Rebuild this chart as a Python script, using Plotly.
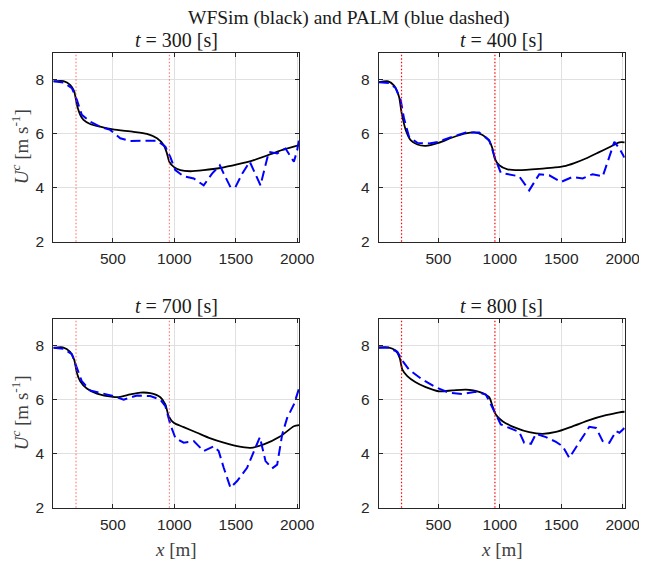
import plotly.graph_objects as go

# ---------------- data ----------------
times = [300, 400, 700, 800]
turbine_x = [200, 960]
x_ticks = [500, 1000, 1500, 2000]
y_ticks = [2, 4, 6, 8]
x_range = [15, 2017]
y_range = [2, 9]

# WFSim (black solid)
wfsim_x_300 = [16, 98, 152, 185, 207, 234, 261, 315, 397, 500, 668, 777, 859, 913, 940, 959, 995, 1049, 1130, 1239, 1375, 1511, 1647, 1783, 1891, 2016]
wfsim_u_300 = [7.94, 7.95, 7.81, 7.57, 7.07, 6.70, 6.51, 6.36, 6.26, 6.16, 6.07, 5.99, 5.83, 5.58, 5.27, 4.96, 4.77, 4.65, 4.61, 4.65, 4.73, 4.86, 5.02, 5.24, 5.42, 5.58]

wfsim_x_400 = [16, 92, 139, 179, 201, 234, 274, 329, 397, 500, 614, 723, 791, 859, 913, 940, 959, 995, 1063, 1158, 1348, 1450, 1538, 1600, 1700, 1800, 1891, 1973, 2016]
wfsim_u_400 = [7.91, 7.94, 7.78, 7.38, 6.76, 6.14, 5.76, 5.60, 5.55, 5.66, 5.86, 6.01, 6.05, 5.95, 5.74, 5.45, 5.08, 4.83, 4.68, 4.65, 4.71, 4.75, 4.81, 4.90, 5.08, 5.30, 5.50, 5.68, 5.68]

wfsim_x_700 = [16, 92, 152, 185, 207, 234, 288, 370, 500, 560, 641, 723, 804, 886, 927, 954, 995, 1076, 1185, 1294, 1402, 1511, 1620, 1728, 1864, 1973, 2016]
wfsim_u_700 = [7.93, 7.95, 7.78, 7.49, 7.00, 6.69, 6.42, 6.23, 6.11, 6.11, 6.20, 6.27, 6.25, 6.10, 5.83, 5.40, 5.15, 4.99, 4.78, 4.57, 4.41, 4.28, 4.22, 4.35, 4.65, 5.02, 5.06]

wfsim_x_800 = [16, 92, 152, 185, 207, 247, 315, 397, 500, 614, 723, 832, 913, 940, 967, 1022, 1130, 1239, 1348, 1457, 1592, 1728, 1864, 1973, 2016]
wfsim_u_800 = [7.95, 7.95, 7.83, 7.56, 7.12, 6.88, 6.65, 6.47, 6.32, 6.35, 6.38, 6.30, 6.10, 5.77, 5.46, 5.21, 4.96, 4.80, 4.74, 4.81, 5.02, 5.25, 5.43, 5.54, 5.56]

# PALM (blue dashed)
palm_x_300 = [16, 98, 166, 207, 247, 315, 397, 478, 560, 641, 750, 859, 927, 967, 1008, 1076, 1158, 1239, 1307, 1370, 1402, 1457, 1497, 1552, 1614, 1647, 1701, 1769, 1837, 1905, 1973, 2000, 2016]
palm_u_300 = [7.94, 7.90, 7.69, 7.25, 6.70, 6.45, 6.26, 6.14, 5.83, 5.73, 5.74, 5.74, 5.52, 5.14, 4.65, 4.42, 4.34, 4.09, 4.52, 4.83, 4.52, 4.02, 4.02, 4.52, 4.96, 4.65, 4.09, 5.33, 5.27, 5.45, 4.96, 5.39, 5.83]

palm_x_400 = [16, 98, 152, 193, 220, 261, 329, 424, 500, 614, 723, 832, 913, 967, 1008, 1076, 1158, 1239, 1321, 1402, 1497, 1592, 1674, 1755, 1837, 1891, 1932, 1973, 2014]
palm_u_400 = [7.91, 7.88, 7.69, 7.25, 6.57, 5.89, 5.66, 5.64, 5.70, 5.89, 6.04, 6.04, 5.76, 5.02, 4.55, 4.48, 4.42, 3.90, 4.50, 4.46, 4.21, 4.40, 4.34, 4.50, 4.42, 5.14, 5.70, 5.45, 5.12]

palm_x_700 = [16, 98, 166, 207, 247, 315, 397, 505, 587, 696, 804, 886, 927, 967, 1008, 1076, 1158, 1239, 1321, 1361, 1402, 1457, 1511, 1592, 1696, 1742, 1796, 1837, 1878, 1918, 1973, 2016]
palm_u_700 = [7.93, 7.90, 7.70, 7.19, 6.69, 6.35, 6.26, 6.14, 6.01, 6.16, 6.14, 6.01, 5.77, 5.09, 4.59, 4.41, 4.47, 4.10, 4.28, 4.10, 3.48, 2.74, 2.99, 3.48, 4.62, 3.73, 3.46, 3.60, 4.72, 5.33, 5.83, 6.44]

palm_x_800 = [16, 98, 166, 220, 261, 370, 478, 587, 696, 804, 886, 954, 1008, 1076, 1158, 1198, 1253, 1294, 1375, 1457, 1511, 1565, 1647, 1728, 1783, 1837, 1891, 1946, 1973, 2016]
palm_u_800 = [7.93, 7.93, 7.78, 7.37, 7.12, 6.75, 6.47, 6.26, 6.22, 6.30, 6.20, 5.58, 5.09, 4.96, 4.81, 4.41, 4.37, 4.74, 4.62, 4.44, 4.28, 3.85, 4.41, 5.00, 4.96, 4.47, 4.41, 4.84, 4.78, 4.96]

wfsim_x = [wfsim_x_300, wfsim_x_400, wfsim_x_700, wfsim_x_800]
wfsim_u = [wfsim_u_300, wfsim_u_400, wfsim_u_700, wfsim_u_800]
palm_x = [palm_x_300, palm_x_400, palm_x_700, palm_x_800]
palm_u = [palm_u_300, palm_u_400, palm_u_700, palm_u_800]

# ---------------- layout ----------------
# The page body has an 8 px margin; the figure is sized so it fills the window.
OFF = 8
W, H = 647 - OFF, 562 - OFF


def fx(px):
    return (px - OFF) / W


def fy(py):
    return 1 - (py - OFF) / H


col_dom = [[fx(53.3), fx(299.3)], [fx(378.8), fx(624.8)]]
row_dom = [[fy(241.7), fy(52.7)], [fy(507.7), fy(319.0)]]

AX = "#262626"
GRID = "#e0e0e0"
SERIF = "Liberation Serif, Times New Roman, serif"
SANS = "Liberation Sans, Arial, Helvetica, sans-serif"

fig = go.Figure()
layout = dict(
    width=W, height=H,
    margin=dict(l=0, r=0, t=0, b=0, autoexpand=False),
    paper_bgcolor="white", plot_bgcolor="white",
    showlegend=False,
    annotations=[], shapes=[],
)

vline_colors = ["rgba(255,70,70,0.7)", "red", "rgba(255,70,70,0.7)", "red"]

for i in range(4):
    r, c = divmod(i, 2)
    n = i + 1
    xa = "x" if n == 1 else f"x{n}"
    ya = "y" if n == 1 else f"y{n}"
    common = dict(
        showline=True, linecolor=AX, linewidth=1, mirror="allticks",
        ticks="inside", ticklen=4, tickcolor=AX, tickwidth=1,
        showgrid=True, gridcolor=GRID, gridwidth=1, zeroline=False,
        tickfont=dict(family=SANS, size=15.5, color=AX),
        automargin=False, ticklabeloverflow="allow",
    )
    layout[f"xaxis{n if n > 1 else ''}"] = dict(
        common, domain=col_dom[c], anchor=ya, range=x_range,
        tickmode="array", tickvals=x_ticks, ticklabelstandoff=3,
    )
    layout[f"yaxis{n if n > 1 else ''}"] = dict(
        common, domain=row_dom[r], anchor=xa, range=y_range,
        tickmode="array", tickvals=y_ticks, ticklabelstandoff=5,
    )

    # turbine positions
    for tx in turbine_x:
        layout["shapes"].append(dict(
            type="line", xref=xa, yref=f"{ya} domain", x0=tx, x1=tx, y0=0, y1=1,
            line=dict(color=vline_colors[i], width=1.2, dash="1.5px,2px"), layer="above",
        ))

    fig.add_trace(go.Scatter(
        x=wfsim_x[i], y=wfsim_u[i], mode="lines", xaxis=xa, yaxis=ya,
        line=dict(color="black", width=1.8, shape="spline", smoothing=0.7),
        name="WFSim",
    ))
    fig.add_trace(go.Scatter(
        x=palm_x[i], y=palm_u[i], mode="lines", xaxis=xa, yaxis=ya,
        line=dict(color="#0000ff", width=2, dash="10px,5px"),
        name="PALM",
    ))

    # subplot title
    xc = (col_dom[c][0] + col_dom[c][1]) / 2
    layout["annotations"].append(dict(
        text=f"<i>t</i> = {times[i]} [s]", xref="paper", yref="paper",
        x=xc, y=row_dom[r][1], xanchor="center", yanchor="bottom", yshift=0,
        showarrow=False, font=dict(family=SERIF, size=20, color="#1a1a1a"),
    ))
    # y label (left column)
    if c == 0:
        layout["annotations"].append(dict(
            text="<i>U</i><sup><i>c</i></sup> [m s<sup>-1</sup>]",
            xref="paper", yref="paper", x=fx(20), y=sum(row_dom[r]) / 2,
            xanchor="center", yanchor="middle", textangle=-90,
            showarrow=False, font=dict(family=SERIF, size=19, color="#404040"),
        ))
    # x label (bottom row)
    if r == 1:
        layout["annotations"].append(dict(
            text="<i>x</i> [m]", xref="paper", yref="paper",
            x=xc, y=fy(549), xanchor="center", yanchor="middle",
            showarrow=False, font=dict(family=SERIF, size=19, color="#404040"),
        ))

layout["annotations"].append(dict(
    text="WFSim (black) and PALM (blue dashed)", xref="paper", yref="paper",
    x=fx(349), y=fy(18), xanchor="center", yanchor="middle",
    showarrow=False, font=dict(family=SERIF, size=19.5, color="#1a1a1a"),
))

fig.update_layout(**layout)
fig.write_html("out.html")
